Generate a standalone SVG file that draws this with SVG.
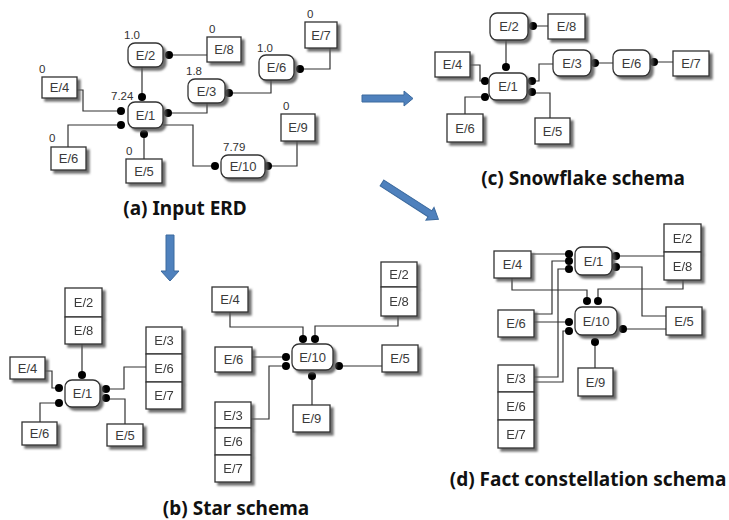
<svg xmlns="http://www.w3.org/2000/svg" width="729" height="520" viewBox="0 0 729 520">
<style>
.ent{fill:#fff;stroke:#333;stroke-width:1.3}
.rel{fill:#fff;stroke:#333;stroke-width:1.3}
.t{font-family:"Liberation Sans",Arial,sans-serif;font-size:13px;fill:#3a3a3a;text-anchor:middle}
.n{font-family:"Liberation Sans",Arial,sans-serif;font-size:11.5px;fill:#333}
.cap{font-family:"Noto Sans","Open Sans",sans-serif;font-size:19px;font-weight:bold;fill:#111;text-anchor:middle}
.ln{fill:none;stroke:#333;stroke-width:1.2}
.dot{fill:#000}
.arr{fill:#4f81bd;stroke:#3c6a9e;stroke-width:1}
.sh{filter:url(#sh)}
</style>
<defs>
<filter id="sh" x="-20%" y="-20%" width="150%" height="150%">
<feDropShadow dx="3" dy="3" stdDeviation="1.2" flood-color="#555" flood-opacity="0.85"/>
</filter>
</defs>
<rect width="729" height="520" fill="#fff"/>

<!-- arrows -->
<g id="arrows">
<polygon class="arr" points="362,95 404,95 404,91 413,98.5 404,106 404,102 362,102"/>
<polygon class="arr" points="166,235 174,235 174,271 179,271 170,281 161,271 166,271"/>
<polygon class="arr" transform="translate(382,183) rotate(32.7)" points="0,-3.5 57,-3.5 57,-7.5 67,0 57,7.5 57,3.5 0,3.5"/>
</g>

<!-- connectors -->
<g id="connectors">
<!-- (a) -->
<path class="ln" d="M142,67V97 M169,55H207 M300,69H330V48 M229,93H271V80 M168,113H207V103 M77,90H83V111H121 M68,147V125H121 M144,134V159 M163,125H193V166H215 M268,166H297V141"/>
<!-- (c) -->
<path class="ln" d="M506,40V67 M533,26H548 M595,63H613 M654,62H673 M470,65H480V81H485 M465,114V97H485 M532,81H539V64H553 M532,93H550V118"/>
<!-- (b) left -->
<path class="ln" d="M82,344V375 M45,371H52V388H59 M40,422V403H59 M106,389H124V367H146 M106,399H125V424"/>
<!-- (b) right -->
<path class="ln" d="M230,312V327H303V339 M398,316V326H315V339 M252,357H286 M251,419H269V366H286 M339,366H382 M312,376V405"/>
<!-- (d) -->
<path class="ln" d="M531,254H569 M534,314H552V261H569 M534,377H558V269H569 M534,382H563V331H569 M534,322H569 M512,278V290H587V301 M683,280V289H598V301 M616,256H664 M616,267H642V316H666 M623,329H666 M595,342V368"/>
<g class="dot">
<!-- (a) -->
<circle cx="142" cy="97" r="4"/><circle cx="169" cy="55" r="4"/><circle cx="300" cy="69" r="4"/><circle cx="229" cy="93" r="4"/>
<circle cx="168" cy="113" r="4"/><circle cx="121" cy="111" r="4"/><circle cx="121" cy="125" r="4"/><circle cx="144" cy="134" r="4"/>
<circle cx="215" cy="166" r="4"/><circle cx="268" cy="166" r="4"/>
<!-- (c) -->
<circle cx="506" cy="67" r="4"/><circle cx="533" cy="26" r="4"/><circle cx="595" cy="63" r="4"/><circle cx="654" cy="62" r="4"/>
<circle cx="485" cy="81" r="4"/><circle cx="485" cy="97" r="4"/><circle cx="532" cy="81" r="4"/><circle cx="532" cy="92" r="4"/>
<!-- (b) left -->
<circle cx="82" cy="375" r="4"/><circle cx="59" cy="388" r="4"/><circle cx="59" cy="403" r="4"/><circle cx="106" cy="389" r="4"/><circle cx="106" cy="398" r="4"/>
<!-- (b) right -->
<circle cx="303" cy="339" r="4"/><circle cx="315" cy="339" r="4"/><circle cx="286" cy="357" r="4"/><circle cx="286" cy="366" r="4"/><circle cx="339" cy="366" r="4"/><circle cx="312" cy="376" r="4"/>
<!-- (d) -->
<circle cx="569" cy="254" r="4"/><circle cx="569" cy="261" r="4"/><circle cx="569" cy="269" r="4"/><circle cx="616" cy="256" r="4"/><circle cx="616" cy="267" r="4"/>
<circle cx="587" cy="301" r="4"/><circle cx="598" cy="301" r="4"/><circle cx="569" cy="322" r="4"/><circle cx="569" cy="331" r="4"/><circle cx="623" cy="329" r="4"/><circle cx="595" cy="342" r="4"/>
</g>
</g>

<!-- (a) Input ERD -->
<g id="a-E2"><rect class="rel sh" x="128" y="43" width="35" height="24" rx="7"/><text class="t" x="145.5" y="59.5">E/2</text><text class="n" x="124" y="39">1.0</text></g>
<g id="a-E8"><rect class="ent sh" x="207" y="37" width="34" height="25"/><text class="t" x="224" y="54">E/8</text><text class="n" x="209" y="33">0</text></g>
<g id="a-E7"><rect class="ent sh" x="305" y="22" width="32" height="26"/><text class="t" x="321" y="40">E/7</text><text class="n" x="307" y="18">0</text></g>
<g id="a-E6r"><rect class="rel sh" x="259" y="55" width="35" height="25" rx="7"/><text class="t" x="276.5" y="72">E/6</text><text class="n" x="257" y="52">1.0</text></g>
<g id="a-E3"><rect class="rel sh" x="188" y="79" width="37" height="24" rx="7"/><text class="t" x="206.5" y="95.5">E/3</text><text class="n" x="186" y="75">1.8</text></g>
<g id="a-E1"><rect class="rel sh" x="128" y="102" width="35" height="26" rx="7"/><text class="t" x="145.5" y="119.5">E/1</text><text class="n" x="111" y="100">7.24</text></g>
<g id="a-E4"><rect class="ent sh" x="42" y="77" width="35" height="21"/><text class="t" x="59.5" y="92">E/4</text><text class="n" x="39" y="73">0</text></g>
<g id="a-E6"><rect class="ent sh" x="51" y="147" width="35" height="23"/><text class="t" x="68.5" y="163">E/6</text><text class="n" x="49" y="142">0</text></g>
<g id="a-E5"><rect class="ent sh" x="126" y="159" width="36" height="24"/><text class="t" x="144" y="175.5">E/5</text><text class="n" x="126" y="155">0</text></g>
<g id="a-E10"><rect class="rel sh" x="221" y="155" width="44" height="23" rx="7"/><text class="t" x="243" y="171">E/10</text><text class="n" x="223" y="151">7.79</text></g>
<g id="a-E9"><rect class="ent sh" x="281" y="114" width="34" height="27"/><text class="t" x="298" y="132">E/9</text><text class="n" x="283" y="110">0</text></g>
<text class="cap" x="185" y="215">(a) Input ERD</text>

<!-- (c) Snowflake -->
<g id="c-E2"><rect class="rel sh" x="490" y="13" width="38" height="27" rx="7"/><text class="t" x="509" y="31">E/2</text></g>
<g id="c-E8"><rect class="ent sh" x="548" y="14" width="37" height="25"/><text class="t" x="566.5" y="31">E/8</text></g>
<g id="c-E4"><rect class="ent sh" x="435" y="52" width="35" height="25"/><text class="t" x="452.5" y="69">E/4</text></g>
<g id="c-E1"><rect class="rel sh" x="489" y="73" width="38" height="27" rx="7"/><text class="t" x="508" y="91">E/1</text></g>
<g id="c-E6"><rect class="ent sh" x="447" y="114" width="36" height="28"/><text class="t" x="465" y="132.5">E/6</text></g>
<g id="c-E5"><rect class="ent sh" x="535" y="118" width="35" height="26"/><text class="t" x="552.5" y="135.5">E/5</text></g>
<g id="c-E3"><rect class="rel sh" x="553" y="50" width="38" height="26" rx="7"/><text class="t" x="572" y="67.5">E/3</text></g>
<g id="c-E6r"><rect class="rel sh" x="613" y="50" width="37" height="26" rx="7"/><text class="t" x="631.5" y="67.5">E/6</text></g>
<g id="c-E7"><rect class="ent sh" x="673" y="51" width="36" height="25"/><text class="t" x="691" y="68">E/7</text></g>
<text class="cap" x="583" y="185">(c) Snowflake schema</text>

<!-- (b) Star, E/1 -->
<g id="b1-E2-E8" class="sh"><rect class="ent" x="65" y="288" width="37" height="29"/><rect class="ent" x="65" y="317" width="37" height="27"/><text class="t" x="83.5" y="307">E/2</text><text class="t" x="83.5" y="335">E/8</text></g>
<g id="b1-E1"><rect class="rel sh" x="65" y="380" width="35" height="27" rx="7"/><text class="t" x="82.5" y="398">E/1</text></g>
<g id="b1-E4"><rect class="ent sh" x="10" y="357" width="35" height="22"/><text class="t" x="27.5" y="372.5">E/4</text></g>
<g id="b1-E6"><rect class="ent sh" x="22" y="422" width="35" height="23"/><text class="t" x="39.5" y="438">E/6</text></g>
<g id="b1-E5"><rect class="ent sh" x="107" y="424" width="36" height="22"/><text class="t" x="125" y="439.5">E/5</text></g>
<g id="b1-E3-E6-E7" class="sh"><rect class="ent" x="146" y="327" width="36" height="27"/><rect class="ent" x="146" y="354" width="36" height="28"/><rect class="ent" x="146" y="382" width="36" height="27"/><text class="t" x="164" y="345">E/3</text><text class="t" x="164" y="372.5">E/6</text><text class="t" x="164" y="400">E/7</text></g>

<!-- (b) Star, E/10 -->
<g id="b2-E4"><rect class="ent sh" x="212" y="287" width="36" height="25"/><text class="t" x="230" y="304">E/4</text></g>
<g id="b2-E2-E8" class="sh"><rect class="ent" x="381" y="262" width="36" height="25"/><rect class="ent" x="381" y="287" width="36" height="29"/><text class="t" x="399" y="279">E/2</text><text class="t" x="399" y="306">E/8</text></g>
<g id="b2-E10"><rect class="rel sh" x="292" y="344" width="41" height="26" rx="7"/><text class="t" x="312.5" y="361.5">E/10</text></g>
<g id="b2-E6"><rect class="ent sh" x="215" y="347" width="37" height="25"/><text class="t" x="233.5" y="364">E/6</text></g>
<g id="b2-E5"><rect class="ent sh" x="382" y="345" width="36" height="27"/><text class="t" x="400" y="363">E/5</text></g>
<g id="b2-E9"><rect class="ent sh" x="293" y="405" width="37" height="27"/><text class="t" x="311.5" y="423">E/9</text></g>
<g id="b2-E3-E6-E7" class="sh"><rect class="ent" x="215" y="402" width="36" height="26"/><rect class="ent" x="215" y="428" width="36" height="27"/><rect class="ent" x="215" y="455" width="36" height="27"/><text class="t" x="233" y="419.5">E/3</text><text class="t" x="233" y="446">E/6</text><text class="t" x="233" y="473">E/7</text></g>
<text class="cap" x="236" y="515">(b) Star schema</text>

<!-- (d) Fact constellation -->
<g id="d-E1"><rect class="rel sh" x="575" y="247" width="37" height="28" rx="7"/><text class="t" x="593.5" y="265.5">E/1</text></g>
<g id="d-E4"><rect class="ent sh" x="494" y="251" width="37" height="27"/><text class="t" x="512.5" y="269">E/4</text></g>
<g id="d-E2-E8" class="sh"><rect class="ent" x="664" y="224" width="37" height="28"/><rect class="ent" x="664" y="252" width="37" height="28"/><text class="t" x="682.5" y="242.5">E/2</text><text class="t" x="682.5" y="270.5">E/8</text></g>
<g id="d-E10"><rect class="rel sh" x="575" y="307" width="42" height="28" rx="7"/><text class="t" x="596" y="325.5">E/10</text></g>
<g id="d-E6"><rect class="ent sh" x="498" y="310" width="36" height="27"/><text class="t" x="516" y="328">E/6</text></g>
<g id="d-E5"><rect class="ent sh" x="666" y="307" width="36" height="28"/><text class="t" x="684" y="325.5">E/5</text></g>
<g id="d-E9"><rect class="ent sh" x="578" y="368" width="35" height="28"/><text class="t" x="595.5" y="386.5">E/9</text></g>
<g id="d-E3-E6-E7" class="sh"><rect class="ent" x="498" y="365" width="36" height="27"/><rect class="ent" x="498" y="392" width="36" height="28"/><rect class="ent" x="498" y="420" width="36" height="28"/><text class="t" x="516" y="383">E/3</text><text class="t" x="516" y="410.5">E/6</text><text class="t" x="516" y="438.5">E/7</text></g>
<text class="cap" x="588" y="486">(d) Fact constellation schema</text>
</svg>
